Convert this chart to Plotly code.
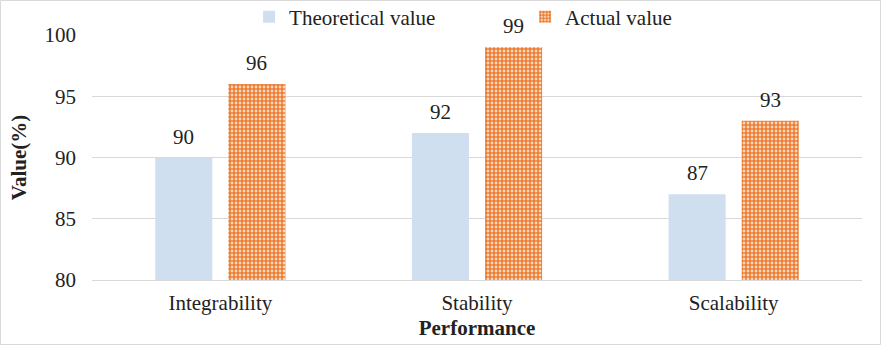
import plotly.graph_objects as go

categories = ["Integrability", "Stability", "Scalability"]
theoretical = [90, 92, 87]
actual = [96, 99, 93]
y_ticks = [80, 85, 90, 95, 100]

FONT = "Liberation Serif"
FS = 21
TXT = "#222"
W, H = 882, 346
ML, MR, MT, MB = 92, 20, 35, 66
PW, PH = W - ML - MR, H - MT - MB

fig = go.Figure()
fig.add_trace(go.Bar(
    name="Theoretical value", x=categories, y=theoretical,
    marker=dict(color="#d0dfef", line=dict(width=0)),
))
fig.add_trace(go.Bar(
    name="Actual value", x=categories, y=actual,
    marker=dict(color="#ed7d31", line=dict(width=0),
                pattern=dict(shape=".", fgcolor="#ed7d31", bgcolor="white",
                             fillmode="replace", size=4, solidity=0.75)),
))

annotations = []
for xs, vals in ((-36.5, theoretical), (36.5, actual)):
    for c, v in zip(categories, vals):
        annotations.append(dict(x=c, y=v, text=str(v), showarrow=False,
                                xshift=xs, yshift=21,
                                font=dict(family=FONT, size=FS, color=TXT)))

fig.update_layout(
    width=W, height=H,
    margin=dict(l=ML, r=MR, t=MT, b=MB, autoexpand=False),
    paper_bgcolor="white", plot_bgcolor="white",
    barmode="group", bargap=0.43, bargroupgap=0.22,
    font=dict(family=FONT, size=FS, color=TXT),
    showlegend=True,
    legend=dict(orientation="h", x=0.204, xanchor="left", y=1.073, yanchor="middle",
                font=dict(family=FONT, size=FS, color=TXT),
                bgcolor="rgba(0,0,0,0)", entrywidth=231, entrywidthmode="pixels"),
    xaxis=dict(
        showgrid=False, showline=True, linecolor="#d9d9d9", linewidth=1,
        tickfont=dict(family=FONT, size=FS, color=TXT), ticks="",
        ticklabelstandoff=4, automargin=False,
        title=dict(text="<b>Performance</b>", font=dict(family=FONT, size=FS, color=TXT),
                   standoff=6),
    ),
    yaxis=dict(
        range=[80, 100], tickvals=y_ticks, ticktext=[str(v) for v in y_ticks],
        showgrid=True, gridcolor="#d9d9d9", gridwidth=1, zeroline=False,
        showline=False, ticks="", ticklen=0, ticklabelstandoff=15, automargin=False,
        tickfont=dict(family=FONT, size=FS, color=TXT),
        title=dict(text="<b>Value(%)</b>", font=dict(family=FONT, size=FS, color=TXT),
                   standoff=12),
    ),
    annotations=annotations,
    shapes=[dict(type="rect", xref="paper", yref="paper",
                 x0=-ML / PW + 0.5 / PW, x1=1 + MR / PW - 1.5 / PW,
                 y0=-MB / PH + 1.5 / PH, y1=1 + MT / PH - 0.5 / PH,
                 line=dict(color="#d9d9d9", width=1), fillcolor="rgba(0,0,0,0)", layer="below")],
)

fig.write_html("out.html", config={"displayModeBar": False},
               post_script="document.body.style.margin='0';document.body.style.overflow='hidden';")
